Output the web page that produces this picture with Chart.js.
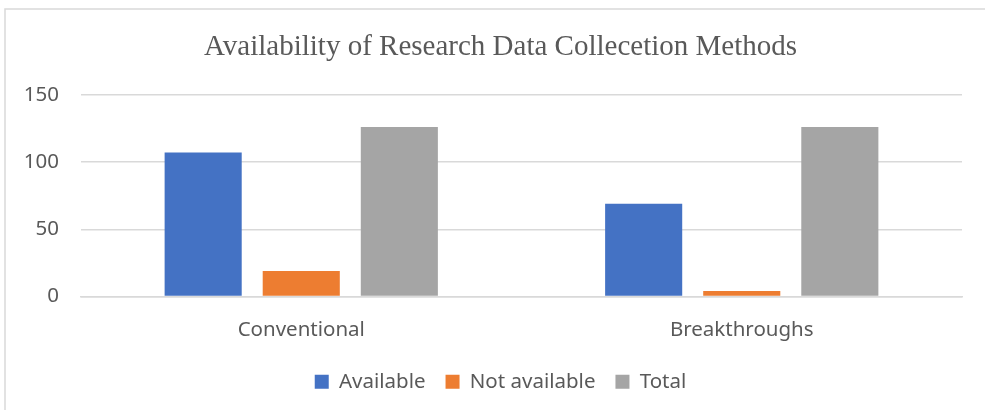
<!DOCTYPE html>
<html>
<head>
<meta charset="utf-8">
<script src="https://cdn.jsdelivr.net/npm/chart.js@4.4.1/dist/chart.umd.min.js"></script>
<style>
  html, body { margin: 0; padding: 0; background: #fff; }
  #wrap { width: 985px; height: 410px; }
</style>
</head>
<body>
<div id="wrap"><canvas id="chart" width="985" height="410"></canvas></div>
<script>
// chart data
const categories = ['Conventional', 'Breakthroughs'];
const available = [107, 69];
const notAvailable = [19, 4];
const total = [126, 126];
const yTicks = [0, 50, 100, 150];

const textColor = '#595959';
const gridColor = '#d9d9d9';

// light frame around the chart area, like the office chart border
const frame = {
    id: 'frame',
    beforeDraw(chart) {
        const c = chart.ctx;
        c.save();
        c.strokeStyle = '#d9d9d9';
        c.lineWidth = 1.5;
        c.strokeRect(5, 9, 1100, 600);
        c.restore();
    }
};

const ctx = document.getElementById('chart').getContext('2d');
new Chart(ctx, {
    type: 'bar',
    data: {
        labels: categories,
        datasets: [
            { label: 'Available', data: available, backgroundColor: '#4472C4' },
            { label: 'Not available', data: notAvailable, backgroundColor: '#ED7D31' },
            { label: 'Total', data: total, backgroundColor: '#A5A5A5' }
        ]
    },
    options: {
        responsive: false,
        animation: false,
        layout: { padding: { top: 10, left: 16, right: 0, bottom: 8 } },
        datasets: {
            bar: { categoryPercentage: 0.668, barPercentage: 0.786 }
        },
        scales: {
            x: {
                grid: { display: false },
                border: { color: gridColor, width: 1.5 },
                ticks: {
                    color: textColor,
                    padding: 13,
                    font: { family: 'Noto Sans', size: 20.5 }
                },
                afterFit(scale) { scale.height = 55; }
            },
            y: {
                min: 0,
                max: 150,
                afterBuildTicks(scale) {
                    scale.ticks = yTicks.map(v => ({ value: v }));
                },
                grid: { color: gridColor, lineWidth: 1.5, drawTicks: false },
                border: { display: false },
                ticks: {
                    color: textColor,
                    padding: 22,
                    font: { family: 'Noto Sans', size: 20.5 }
                },
                afterFit(scale) { scale.width = 65; }
            },
            // empty spacer on the right so title and legend sit where they do in the original
            spacer: {
                type: 'linear',
                position: 'right',
                grid: { display: false },
                border: { display: false },
                ticks: { display: false },
                afterFit(scale) { scale.width = 23; }
            }
        },
        plugins: {
            title: {
                display: true,
                text: 'Availability of Research Data Collecetion Methods',
                color: textColor,
                padding: { top: 20, bottom: 30 },
                font: { family: 'Liberation Serif', size: 29, weight: 'normal' }
            },
            legend: {
                position: 'bottom',
                labels: {
                    color: textColor,
                    boxWidth: 14,
                    boxHeight: 14,
                    padding: 20,
                    font: { family: 'Noto Sans', size: 20.5 }
                }
            },
            tooltip: { enabled: false }
        }
    },
    plugins: [frame]
});
</script>
</body>
</html>
